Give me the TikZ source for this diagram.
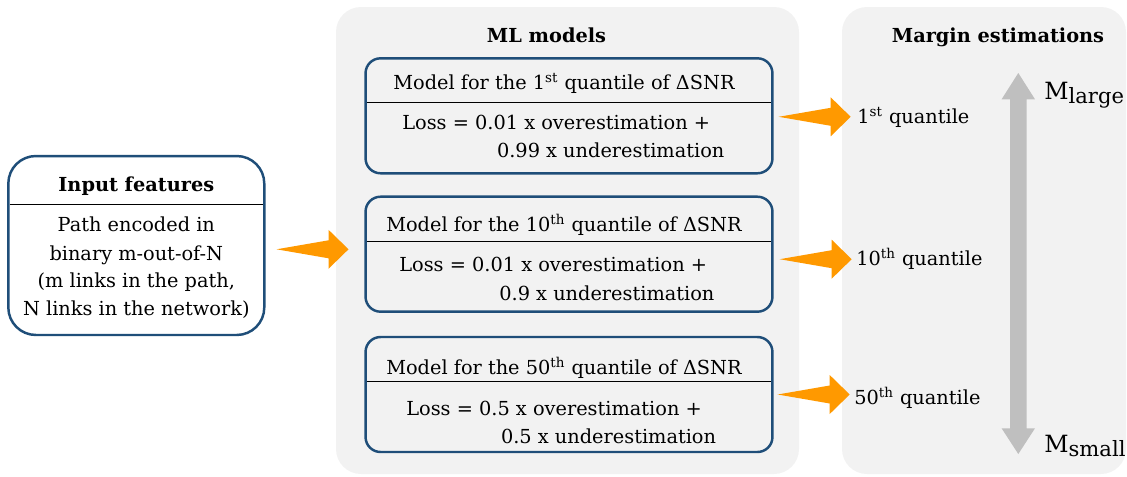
\documentclass[tikz,border=0pt]{standalone}
\usepackage{fontspec}
\setmainfont{DejaVu Serif}
\usetikzlibrary{calc}
\definecolor{boxblue}{RGB}{31,78,121}
\definecolor{arrowor}{RGB}{255,153,0}
\definecolor{panelgray}{RGB}{242,242,242}
\definecolor{scalegray}{RGB}{191,191,191}
\tikzset{
  panel/.style={fill=panelgray, rounded corners=0.5cm},
  mbox/.style={draw=boxblue, line width=1.4pt, rounded corners=0.3cm,
    minimum width=8.14cm, minimum height=2.3cm, inner sep=0pt},
  txt/.style={font=\fontsize{11}{13}\selectfont, inner sep=0pt, anchor=base west},
  ttl/.style={font=\fontsize{11}{13}\selectfont\bfseries, inner sep=0pt, anchor=base},
  hline/.style={line width=0.8pt, shorten <=1.4pt, shorten >=1.4pt},
  fatarrow/.pic={\fill[arrowor] (0,0) -- (52,-9) -- (52,-19.5) -- (72,0) -- (52,19.5) -- (52,9) -- cycle;}
}
\begin{document}
\begin{tikzpicture}[x=0.02cm, y=-0.02cm]
    \useasboundingbox (0,0) rectangle (1127,477);
    % panels
    \fill[panel] (336,7) rectangle (799,474);
    \fill[panel] (842,7) rectangle (1126,474);
    \node[ttl] (mltitle) at (546.5,42) {ML models};
    \node[ttl] (mgtitle) at (998,42.5) {Margin estimations};
    % input features
    \node[mbox, fill=white, rounded corners=0.55cm, minimum width=5.12cm, minimum height=3.58cm] (inp) at (136.3,245.5) {};
    \draw[hline] (inp.west |- 0,204.3) -- (inp.east |- 0,204.3);
    \node[ttl] (inptitle) at (136.3,191.7) {Input features};
    \foreach \t/\y [count=\i] in {{Path encoded in}/231.7, {binary m-out-of-N}/260, {(m links in the path,}/287.5, {N links in the network)}/315.5}
        \node[txt, anchor=base] (inp\i) at (136.3,\y) {\t};
    \pic at ($(inp.east)+(11,3.8)$) {fatarrow};
    % models
    \foreach \i/\q/\s/\c/\h/\l/\a/\b/\xa/\xb/\o/\u in {
        1/1/st/115.8/89.3/102.7/129.3/157.7/402/496.7/0.01/0.99,
        2/10/th/254.2/231.7/241.7/271.7/300/399/499/0.01/0.9,
        3/50/th/394.5/374/381.7/415/443/406/500.7/0.5/0.5}{
        \node[mbox] (m\i) at (569,\c) {};
        \draw[hline] (m\i.west |- 0,\l) -- (m\i.east |- 0,\l);
        \node[txt, anchor=base] (mh\i) at (564,\h) {Model for the \q\textsuperscript{\s} quantile of ΔSNR};
        \node[txt] (la\i) at (\xa,\a) {Loss = \o\ x overestimation +};
        \node[txt] (lb\i) at (\xb,\b) {\u\ x underestimation};
    }
    % outputs
    \node[txt] (q1) at (857,123) {1\textsuperscript{st} quantile};
    \node[txt] (q2) at (856,265) {10\textsuperscript{th} quantile};
    \node[txt] (q3) at (854,404) {50\textsuperscript{th} quantile};
    \pic at ($(m1.east)+(5,1)$) {fatarrow};
    \pic at ($(m2.east)+(6,5)$) {fatarrow};
    \pic at ($(m3.east)+(4,0)$) {fatarrow};
    % margin scale
    \fill[scalegray] (1018.3,73) -- (1035,99.3) -- (1026.6,99.3) -- (1026.6,428.3) -- (1035,428.3)
        -- (1018.3,454) -- (1001.6,428.3) -- (1010,428.3) -- (1010,99.3) -- (1001.6,99.3) -- cycle;
    \node[txt, font=\fontsize{13.5}{15}\selectfont] (mlarge) at (1044,99) {M\raisebox{-0.35ex}{\fontsize{12}{14}\selectfont large}};
    \node[txt, font=\fontsize{13.5}{15}\selectfont] (msmall) at (1044,452) {M\raisebox{-0.35ex}{\fontsize{12}{14}\selectfont small}};
\end{tikzpicture}
\end{document}
